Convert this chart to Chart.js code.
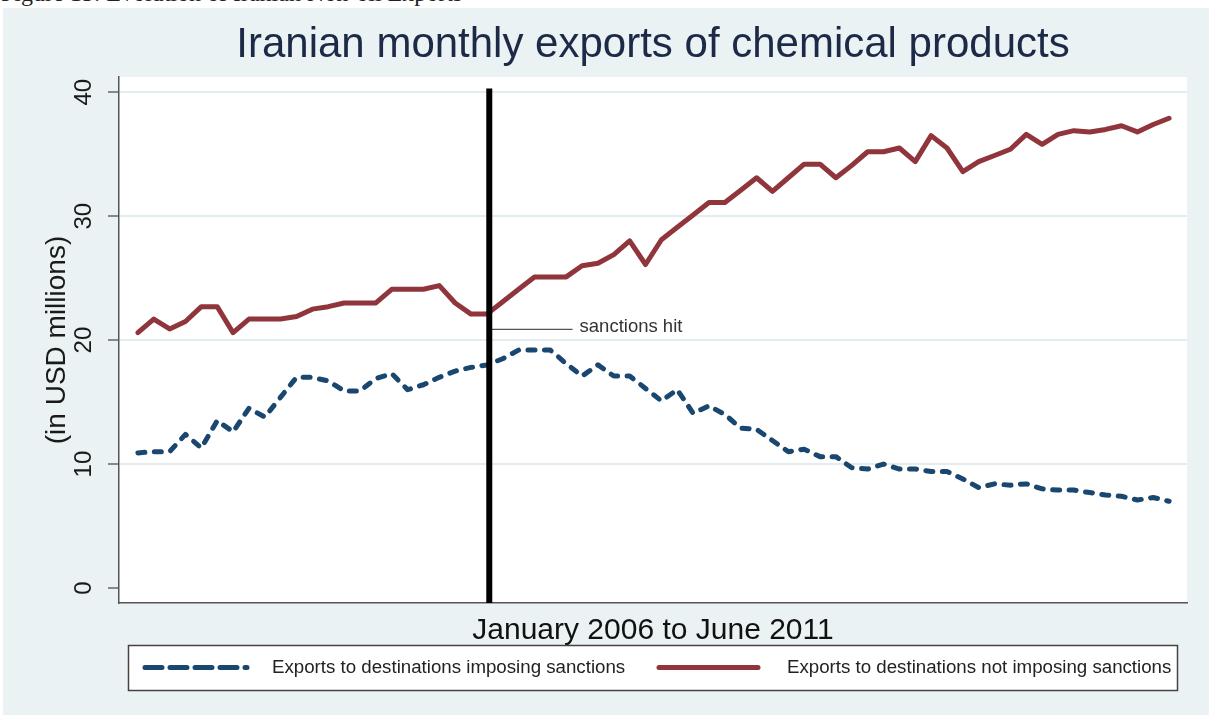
<!DOCTYPE html>
<html>
<head>
<meta charset="utf-8">
<title>Iranian monthly exports of chemical products</title>
<script src="https://cdn.jsdelivr.net/npm/chart.js@4.4.1/dist/chart.umd.min.js"></script>
<style>
  html, body { margin: 0; padding: 0; background: #fff; }
  #wrap { position: relative; width: 1209px; height: 715px; overflow: hidden; }
  #chart { position: absolute; left: 0; top: 0; }
  #capbox { position: absolute; left: 0; top: 0; width: 1209px; height: 8px; overflow: hidden; background: #fff; }
  #caption { position: absolute; left: 1px; top: -19px; font: 24px/24px 'Liberation Serif', 'Times New Roman', serif; color: #222; white-space: nowrap; }
</style>
</head>
<body>
<div id="wrap">
  <canvas id="chart" width="1209" height="715"></canvas>
  <div id="capbox"><div id="caption">Figure 15: Evolution of Iranian Non-oil Exports</div></div>
</div>
<script>
// monthly values, January 2006 to June 2011 (USD millions)
const monthNames = ['Jan', 'Feb', 'Mar', 'Apr', 'May', 'Jun', 'Jul', 'Aug', 'Sep', 'Oct', 'Nov', 'Dec'];
const months = [];
for (let y = 2006; y <= 2011; y++) {
  for (let m = 0; m < 12; m++) {
    if (y === 2011 && m > 5) break;
    months.push(monthNames[m] + ' ' + y);
  }
}

const imposing = [
  10.9, 11.0, 11.0, 12.4, 11.3, 13.5, 12.6, 14.5, 13.8, 15.4, 17.0, 17.0,
  16.7, 15.9, 15.9, 16.9, 17.3, 16.0, 16.4, 17.0, 17.5, 17.8, 18.0, 18.5,
  19.2, 19.2, 19.2, 18.1, 17.1, 18.0, 17.1, 17.1, 16.1, 15.1, 16.0, 14.1,
  14.7, 14.0, 12.9, 12.8, 11.9, 11.0, 11.2, 10.6, 10.6, 9.7, 9.6, 10.0,
  9.6, 9.6, 9.4, 9.4, 8.8, 8.1, 8.4, 8.3, 8.4, 8.0, 7.9, 7.9,
  7.7, 7.5, 7.4, 7.1, 7.3, 7.0
];

const notImposing = [
  20.6, 21.7, 20.9, 21.5, 22.7, 22.7, 20.6, 21.7, 21.7, 21.7, 21.9, 22.5,
  22.7, 23.0, 23.0, 23.0, 24.1, 24.1, 24.1, 24.4, 23.0, 22.1, 22.1, 23.1,
  24.1, 25.1, 25.1, 25.1, 26.0, 26.2, 26.9, 28.0, 26.1, 28.1, 29.1, 30.1,
  31.1, 31.1, 32.1, 33.1, 32.0, 33.1, 34.2, 34.2, 33.1, 34.1, 35.2, 35.2,
  35.5, 34.4, 36.5, 35.5, 33.6, 34.4, 34.9, 35.4, 36.6, 35.8, 36.6, 36.9,
  36.8, 37.0, 37.3, 36.8, 37.4, 37.9
];

const yTicks = [0, 10, 20, 30, 40];

const seriesLabels = [
  'Exports to destinations imposing sanctions',
  'Exports to destinations not imposing sanctions'
];

// where the sanctions line sits (month index) and how high it goes
const sanctionsAt = 22.15;
const sanctionsTop = 40.3;
const noteLevel = 20.87;
const noteEnd = 27.4;

const font = "'Liberation Sans', Arial, Helvetica, sans-serif";
const navy = '#1a476f';
const maroon = '#90353b';
const bg = '#eaf2f3';

const pts = arr => arr.map((v, i) => ({ x: i, y: v }));

const decor = {
  id: 'decor',
  beforeDraw(c) {
    const ctx = c.ctx, a = c.chartArea;
    ctx.save();
    ctx.fillStyle = '#fff';
    ctx.fillRect(0, 0, c.width, c.height);
    ctx.fillStyle = bg;
    ctx.fillRect(3, 8, c.width - 3, c.height - 8);
    ctx.fillStyle = '#fff';
    ctx.fillRect(a.left, a.top, a.right - a.left, a.bottom - a.top);
    ctx.restore();
  },
  afterDatasetsDraw(c) {
    const ctx = c.ctx, xs = c.scales.x, ys = c.scales.y, a = c.chartArea;
    const lx = xs.getPixelForValue(sanctionsAt);
    ctx.save();
    // thin connector + note
    const ny = ys.getPixelForValue(noteLevel);
    ctx.strokeStyle = '#555';
    ctx.lineWidth = 1.3;
    ctx.beginPath();
    ctx.moveTo(lx, ny);
    ctx.lineTo(xs.getPixelForValue(noteEnd), ny);
    ctx.stroke();
    ctx.fillStyle = '#333';
    ctx.font = '18.5px ' + font;
    ctx.textBaseline = 'middle';
    ctx.fillText('sanctions hit', xs.getPixelForValue(noteEnd) + 7, ny - 2);
    // vertical sanctions line
    ctx.strokeStyle = '#000';
    ctx.lineWidth = 6;
    ctx.beginPath();
    ctx.moveTo(lx, a.bottom);
    ctx.lineTo(lx, ys.getPixelForValue(sanctionsTop));
    ctx.stroke();
    ctx.restore();
  },
  afterDraw(c) {
    const ctx = c.ctx, a = c.chartArea, ys = c.scales.y;
    const cx = (a.left + a.right) / 2;
    ctx.save();

    // title
    ctx.fillStyle = '#1c2a48';
    ctx.font = '42px ' + font;
    ctx.textAlign = 'center';
    ctx.textBaseline = 'alphabetic';
    ctx.fillText('Iranian monthly exports of chemical products', cx, 57);

    // y tick labels, rotated like the original
    ctx.fillStyle = '#1a1a1a';
    ctx.font = '24px ' + font;
    yTicks.forEach(v => {
      ctx.save();
      ctx.translate(91, ys.getPixelForValue(v));
      ctx.rotate(-Math.PI / 2);
      ctx.fillText(String(v), 0, 0);
      ctx.restore();
    });

    // y title
    ctx.save();
    ctx.font = '28px ' + font;
    ctx.translate(65, (a.top + a.bottom) / 2);
    ctx.rotate(-Math.PI / 2);
    ctx.fillText('(in USD millions)', 0, 0);
    ctx.restore();

    // x title
    ctx.font = '30px ' + font;
    ctx.fillStyle = '#111';
    ctx.fillText('January 2006 to June 2011', cx, 639);

    // legend box
    ctx.fillStyle = '#fff';
    ctx.fillRect(128, 645, 1049, 45);
    ctx.strokeStyle = '#444';
    ctx.lineWidth = 1.5;
    ctx.strokeRect(128.5, 645.5, 1049, 45);

    const ly = 667.5;
    ctx.lineCap = 'round';
    ctx.lineWidth = 5;
    ctx.strokeStyle = navy;
    ctx.setLineDash([17, 8]);
    ctx.beginPath();
    ctx.moveTo(145, ly);
    ctx.lineTo(247, ly);
    ctx.stroke();
    ctx.setLineDash([]);
    ctx.strokeStyle = maroon;
    ctx.beginPath();
    ctx.moveTo(659, ly);
    ctx.lineTo(758, ly);
    ctx.stroke();

    ctx.fillStyle = '#222';
    ctx.font = '18.7px ' + font;
    ctx.textAlign = 'left';
    ctx.textBaseline = 'middle';
    ctx.fillText(seriesLabels[0], 272, ly);
    ctx.fillText(seriesLabels[1], 787, ly);
    ctx.restore();
  }
};

const chart = new Chart(document.getElementById('chart'), {
  type: 'line',
  data: {
    labels: months,
    datasets: [
      {
        label: seriesLabels[1],
        data: pts(notImposing),
        borderColor: maroon,
        borderWidth: 5
      },
      {
        label: seriesLabels[0],
        data: pts(imposing),
        borderColor: navy,
        borderWidth: 5,
        borderDash: [7, 9.5]
      }
    ]
  },
  options: {
    responsive: false,
    animation: false,
    devicePixelRatio: 1,
    layout: { padding: { left: 119, top: 77, right: 22, bottom: 112 } },
    plugins: {
      legend: { display: false },
      title: { display: false },
      tooltip: { enabled: false }
    },
    elements: {
      point: { radius: 0 },
      line: { tension: 0, borderCapStyle: 'round', borderJoinStyle: 'round', fill: false }
    },
    scales: {
      x: {
        type: 'linear',
        min: -1.19,
        max: 66.13,
        ticks: { display: false },
        grid: { display: false },
        border: { color: '#555', width: 1.5 },
        afterFit: s => { s.height = 0; }
      },
      y: {
        min: -1.21,
        max: 41.23,
        afterBuildTicks: s => { s.ticks = yTicks.map(v => ({ value: v })); },
        ticks: { display: false },
        grid: {
          color: ctx => (ctx.tick && ctx.tick.value === 0) ? 'rgba(0,0,0,0)' : '#e3edef',
          lineWidth: 2,
          tickLength: 11,
          tickColor: '#666',
          tickWidth: 1.5
        },
        border: { color: '#555', width: 1.5 },
        afterFit: s => { s.width = 0; }
      }
    }
  },
  plugins: [decor]
});
</script>
</body>
</html>
